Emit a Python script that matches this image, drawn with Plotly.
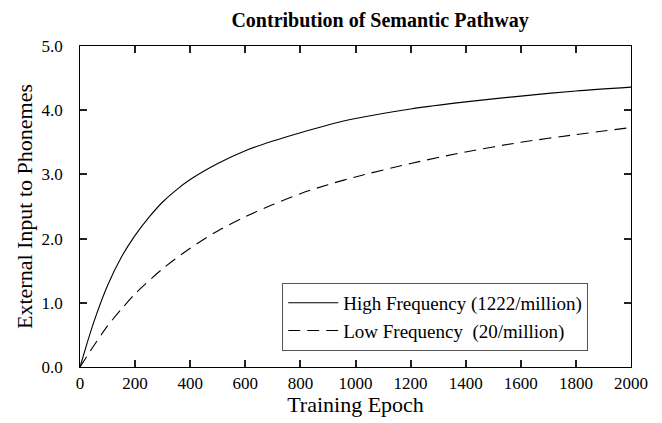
import plotly.graph_objects as go

epochs_high = [0, 25, 50, 100, 150, 200, 250, 300, 350, 400, 500, 600, 700, 800, 900, 1000, 1200, 1400, 1600, 1800, 2000]
high_freq = [0.0, 0.36, 0.70, 1.27, 1.71, 2.05, 2.33, 2.57, 2.76, 2.92, 3.17, 3.37, 3.52, 3.65, 3.77, 3.87, 4.02, 4.13, 4.22, 4.30, 4.36]

epochs_low = [0, 50, 100, 150, 200, 300, 400, 500, 600, 700, 800, 900, 1000, 1200, 1400, 1600, 1800, 2000]
low_freq = [0.0, 0.33, 0.64, 0.90, 1.14, 1.53, 1.85, 2.12, 2.34, 2.53, 2.70, 2.84, 2.96, 3.17, 3.35, 3.50, 3.62, 3.73]

x_range = [0, 2000]
y_range = [0, 5]
x_tick_step = 200
x_minor_step = 50
y_tick_step = 1.0
y_minor_step = 0.25

FONT = "Liberation Serif"

fig = go.Figure()
fig.add_trace(go.Scatter(
    x=epochs_high, y=high_freq, mode="lines",
    name="High Frequency (1222/million)",
    line=dict(color="black", width=1.1, shape="spline", smoothing=0.8),
))
fig.add_trace(go.Scatter(
    x=epochs_low, y=low_freq, mode="lines",
    name="Low Frequency  (20/million)",
    line=dict(color="black", width=1.1, dash="12px,7px", shape="spline", smoothing=0.8),
))


def tick_axis(rng, step, length, **kw):
    return dict(range=rng, tickmode="linear", tick0=0, dtick=step,
                showgrid=False, zeroline=False, showline=False, showticklabels=False,
                ticks="inside", ticklen=length, tickwidth=2, tickcolor="#222222", **kw)


fig.update_layout(
    xaxis=dict(
        range=x_range, tickmode="linear", tick0=0, dtick=x_tick_step,
        showgrid=False, zeroline=False, showline=True, linecolor="black", linewidth=1.2,
        mirror="allticks", ticks="inside", ticklen=7, tickwidth=2, tickcolor="#222222",
        tickfont=dict(family=FONT, size=17, color="black"),
        title=dict(text="Training Epoch", font=dict(family=FONT, size=22, color="black"), standoff=2),
    ),
    yaxis=dict(
        range=y_range, tickmode="linear", tick0=0, dtick=y_tick_step, tickformat=".1f",
        ticksuffix="\u00a0\u00a0\u00a0",
        showgrid=False, zeroline=False, showline=True, linecolor="black", linewidth=1.2,
        mirror="allticks", ticks="inside", ticklen=7, tickwidth=2, tickcolor="#222222",
        tickfont=dict(family=FONT, size=17, color="black"),
        title=dict(text="External Input to Phonemes", font=dict(family=FONT, size=22, color="black"), standoff=2),
    ),
    xaxis3=tick_axis(x_range, x_minor_step, 4, overlaying="x", side="bottom", anchor="y", mirror="allticks"),
    yaxis3=tick_axis(y_range, y_minor_step, 4, overlaying="y", side="left", anchor="x", mirror="allticks"),
)

# the page body adds an 8px offset; margins compensate so the plot lands at x 80-631, y 46-367
fig.update_layout(
    width=662, height=423,
    margin=dict(l=72, r=39, t=38, b=64),
    plot_bgcolor="rgba(0,0,0,0)", paper_bgcolor="white",
    title=dict(text="<b>Contribution of Semantic Pathway</b>",
               font=dict(family=FONT, size=20, color="black"),
               x=0.562, xanchor="center", y=0.972, yanchor="middle"),
    showlegend=True,
    legend=dict(
        x=0.367, y=0.156, xanchor="left", yanchor="middle",
        bgcolor="white", bordercolor="#555555", borderwidth=1,
        font=dict(family=FONT, size=19, color="black"),
        itemwidth=50, tracegroupgap=0,
    ),
)

fig.write_html("out.html")
